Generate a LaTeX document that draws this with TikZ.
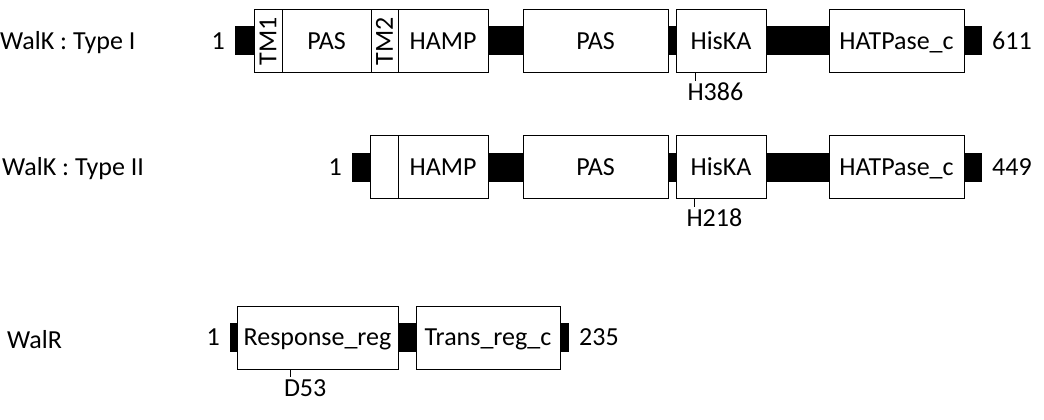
\documentclass[tikz,border=0pt]{standalone}
\usepackage{fontspec}
\setmainfont{Carlito}
\usetikzlibrary{positioning}

\begin{document}
\begin{tikzpicture}[
    x=1pt, y=-1pt,
    node distance=0pt,
    font=\fontsize{26pt}{30pt}\selectfont,
    dom/.style={
        draw,
        rectangle,
        fill=white,
        line width=0.8pt,
        inner sep=0pt,
        outer sep=0pt,
        minimum height=63pt,
        text height=16.4pt,
        text depth=0pt
    },
    tmbox/.style={dom, text height=, text depth=},
    protname/.style={inner sep=0pt, text height=16.4pt, text depth=0pt},
    endnum/.style={protname, inner xsep=10pt},
    site/.style={protname},
    linker/.style={line width=29pt},
    tick/.style={line width=1pt}
]
\useasboundingbox (0,0) rectangle (1044,420);

% WalK type I
\node[protname, anchor=west] (walk1) at (0,41) {WalK : Type I};
\node[tmbox, minimum width=28pt, anchor=west] (tm1) at (254,41) {\rotatebox{90}{TM1}};
\node[dom, minimum width=89pt, right=of tm1] (pas1) {PAS};
\node[tmbox, minimum width=27pt, right=of pas1] (tm2) {\rotatebox{90}{TM2}};
\node[dom, minimum width=90pt, right=of tm2] (hamp1) {HAMP};
\node[dom, minimum width=145pt, right=35pt of hamp1] (pasb1) {PAS};
\node[dom, minimum width=90pt, right=8pt of pasb1] (hiska1) {HisKA};
\node[dom, minimum width=135pt, right=63pt of hiska1] (hatpase1) {HATPase\_c};
\node[endnum, left=19pt of tm1] (start1) {1};
\node[endnum, right=18pt of hatpase1] (end1) {611};

\draw[linker] (start1) -- (tm1);
\draw[linker] (hamp1) -- (pasb1);
\draw[linker] (pasb1) -- (hiska1);
\draw[linker] (hiska1) -- (hatpase1);
\draw[linker] (hatpase1) -- (end1);
\draw[tick] ([xshift=-26pt]hiska1.south) -- ++(0,8)
    node[site, anchor=north west, xshift=-8pt, yshift=-3pt] (h386) {H386};

% WalK type II
\node[protname, anchor=west] (walk2) at (2,167) {WalK : Type II};
\node[dom, minimum width=90pt, below=63pt of hamp1] (hamp2) {HAMP};
\node[dom, minimum width=28pt, left=of hamp2] (tm3) {};
\node[dom, minimum width=145pt, right=35pt of hamp2] (pas2) {PAS};
\node[dom, minimum width=90pt, right=8pt of pas2] (hiska2) {HisKA};
\node[dom, minimum width=135pt, right=63pt of hiska2] (hatpase2) {HATPase\_c};
\node[endnum, left=18pt of tm3] (start2) {1};
\node[endnum, right=18pt of hatpase2] (end2) {449};

\draw[linker] (start2) -- (tm3);
\draw[linker] (hamp2) -- (pas2);
\draw[linker] (pas2) -- (hiska2);
\draw[linker] (hiska2) -- (hatpase2);
\draw[linker] (hatpase2) -- (end2);
\draw[tick] ([xshift=-27pt]hiska2.south) -- ++(0,8)
    node[site, anchor=north west, xshift=-8pt, yshift=-3pt] (h218) {H218};

% WalR
\node[protname, anchor=west] (walr) at (7,340) {WalR};
\node[dom, minimum width=161pt, anchor=north west] (resp) at (237,306) {Response\_reg};
\node[dom, minimum width=144pt, right=18pt of resp] (trans) {Trans\_reg\_c};
\node[endnum, left=7pt of resp] (start3) {1};
\node[endnum, right=9pt of trans] (end3) {235};

\draw[linker] (start3) -- (resp);
\draw[linker] (resp) -- (trans);
\draw[linker] (trans) -- (end3);
\draw[tick] ([xshift=-27pt]resp.south) -- ++(0,8)
    node[site, anchor=north west, xshift=-7pt, yshift=-3pt] (d53) {D53};

\end{tikzpicture}
\end{document}
